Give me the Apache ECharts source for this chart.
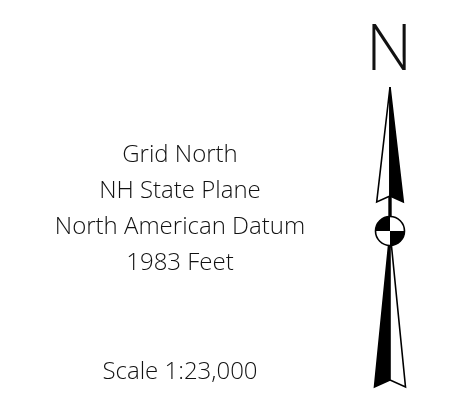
<!DOCTYPE html>
<html>
<head>
<meta charset="utf-8">
<script src="https://cdn.jsdelivr.net/npm/echarts@6/dist/echarts.min.js"></script>
<style>
  html, body { margin: 0; padding: 0; background: #fff; }
  #main { width: 452px; height: 416px; }
</style>
</head>
<body>
<div id="main"></div>
<script>
// text blocks
var datumLines = ['Grid North', 'NH State Plane', 'North American Datum', '1983 Feet'];
var scaleLabel = 'Scale 1:23,000';
var northLabel = 'N';

// north arrow outline, units measured down from the tip
var upperHalfLeft = [[0, 0], [-13.3, 115], [0, 109]];
var upperHalfRight = [[0, 0], [13.3, 115], [0, 109]];
var shaft = [[0, 109], [0, 144]];
var lowerHalfLeft = [[0, 144], [-15.5, 300], [0, 293]];
var lowerHalfRight = [[0, 144], [15.5, 300], [0, 293]];
var hub = [0, 144, 14.5];

var myChart = echarts.init(document.getElementById('main'));

function poly(api, pts, fill) {
    return {
        type: 'polygon',
        shape: { points: pts.map(function (p) { return api.coord(p); }) },
        style: { fill: fill, stroke: '#000', lineWidth: 1.6, lineJoin: 'miter' }
    };
}

function label(txt, x, y, size) {
    return {
        type: 'text', x: x, y: y,
        style: {
            text: txt, fill: '#111', font: '300 ' + size + 'px "Open Sans"',
            align: 'center', verticalAlign: 'middle'
        }
    };
}

var texts = datumLines.map(function (t, i) { return label(t, 180, 155 + i * 36, 24); });
texts.push(label(scaleLabel, 180, 372, 24));
texts.push(label(northLabel, 389, 52, 64));

var option = {
    animation: false,
    backgroundColor: '#fff',
    grid: { left: 370, width: 40, top: 87, height: 310 },
    xAxis: { type: 'value', min: -20, max: 20, show: false },
    yAxis: { type: 'value', min: 0, max: 310, inverse: true, show: false },
    graphic: texts,
    series: [{
        type: 'custom',
        data: [0],
        renderItem: function (params, api) {
            var c = api.coord([hub[0], hub[1]]);
            var r = api.size([hub[2], 0])[0];
            var a = api.coord(shaft[0]), b = api.coord(shaft[1]);
            return {
                type: 'group',
                children: [
                    { type: 'line', shape: { x1: a[0], y1: a[1], x2: b[0], y2: b[1] },
                      style: { stroke: '#000', lineWidth: 3.4 } },
                    poly(api, upperHalfLeft, '#fff'),
                    poly(api, upperHalfRight, '#000'),
                    poly(api, lowerHalfLeft, '#000'),
                    poly(api, lowerHalfRight, '#fff'),
                    { type: 'circle', shape: { cx: c[0], cy: c[1], r: r },
                      style: { fill: '#fff', stroke: '#000', lineWidth: 1.6 } },
                    { type: 'sector', shape: { cx: c[0], cy: c[1], r: r, r0: 0,
                      startAngle: Math.PI, endAngle: Math.PI * 1.5 }, style: { fill: '#000' } },
                    { type: 'sector', shape: { cx: c[0], cy: c[1], r: r, r0: 0,
                      startAngle: 0, endAngle: Math.PI * 0.5 }, style: { fill: '#000' } }
                ]
            };
        }
    }]
};
myChart.setOption(option);
</script>
</body>
</html>
